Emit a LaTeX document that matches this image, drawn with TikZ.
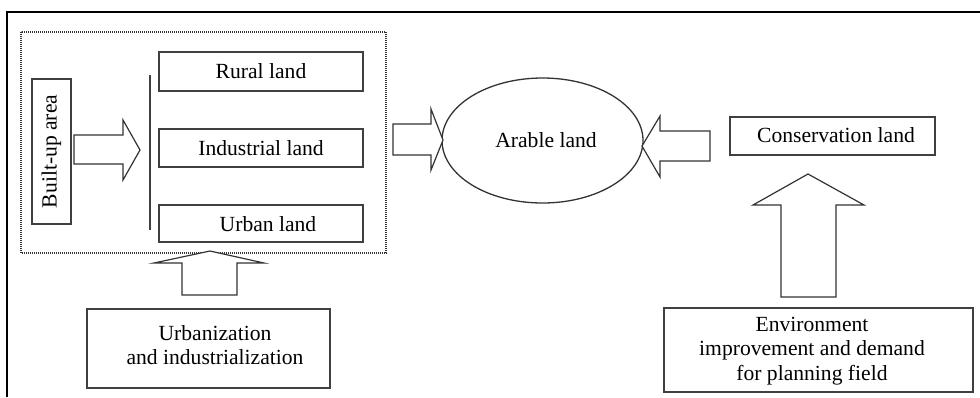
\documentclass[tikz,border=0pt]{standalone}
\usepackage{fontspec}
\setmainfont{Liberation Serif}
\usetikzlibrary{shapes.geometric}
\begin{document}
\begin{tikzpicture}[x=0.5pt,y=-0.5pt,
  every node/.style={font=\fontsize{10.8}{12.2}\selectfont, text=black},
  box/.style={draw=black!75, line width=0.65pt, inner sep=0pt, align=center},
  blockarrow/.style={draw=black!80, fill=white, line width=0.6pt, line join=miter},
  frameline/.style={draw=black, line width=0.75pt}]
\useasboundingbox (0,0) rectangle (980,397);
% outer frame (top and left only)
\draw[frameline] (980,12) -- (7,12) -- (7,397);
% dotted group
\draw[black!80, line width=0.8pt, dash pattern=on 0.4pt off 0.6pt] (21,32) rectangle (386,253);
% nodes
\node[box, minimum width=19.5pt, minimum height=72.5pt] (built) at (51.5,151.5) {};
\node[rotate=90] (builttext) at (51.5,151.5) {Built-up area};
\node[box, minimum width=102pt, minimum height=19.5pt] (rural) at (261,71.5) {Rural land};
\node[box, minimum width=102pt, minimum height=19pt] (industrial) at (261,148) {Industrial land};
\node[box, minimum width=102pt, minimum height=18.5pt] (urban) at (261,223.5) {};
\node (urbantext) at (268,224) {Urban land};
\node[box, draw=black!80, ellipse, minimum width=100.5pt, minimum height=62.5pt] (arable) at (542.5,140.5) {};
\node (arabletext) at (546,140) {Arable land};
\node[box, minimum width=102.5pt, minimum height=19pt] (cons) at (832.5,136) {};
\node (constext) at (836,135) {Conservation land};
\node[box, minimum width=121.5pt, minimum height=39.5pt] (urbanization) at (208.5,348.5) {};
\node[align=center] (urbtext) at (215,345) {Urbanization\\and industrialization};
\node[box, minimum width=154.5pt, minimum height=42pt] (env) at (818.5,350) {};
\node[align=center] (envtext) at (812,351) {Environment\\improvement and demand\\for planning field};
% vertical bar
\coordinate (bartop) at (150,75);
\coordinate (barbot) at (150,230);
\draw[black!75, line width=0.75pt] (bartop) -- (barbot);
% block arrows
\draw[blockarrow] (74,135) -- (123,135) -- (123,120) -- (140,150) -- (123,180) -- (123,164) -- (74,164) -- cycle;
\draw[blockarrow] (393,124) -- (431,124) -- (431,109) -- (443,140) -- (431,170) -- (431,155) -- (393,155) -- cycle;
\draw[blockarrow] (710,131) -- (660,131) -- (660,116) -- (642,146) -- (660,177) -- (660,161) -- (710,161) -- cycle;
\draw[blockarrow] (182,295) -- (182,263) -- (154,263) -- (210,251) -- (264,263) -- (237,263) -- (237,295) -- cycle;
\draw[blockarrow] (781,297) -- (781,205) -- (753,205) -- (808,174) -- (864,205) -- (836,205) -- (836,297) -- cycle;
\end{tikzpicture}
\end{document}
